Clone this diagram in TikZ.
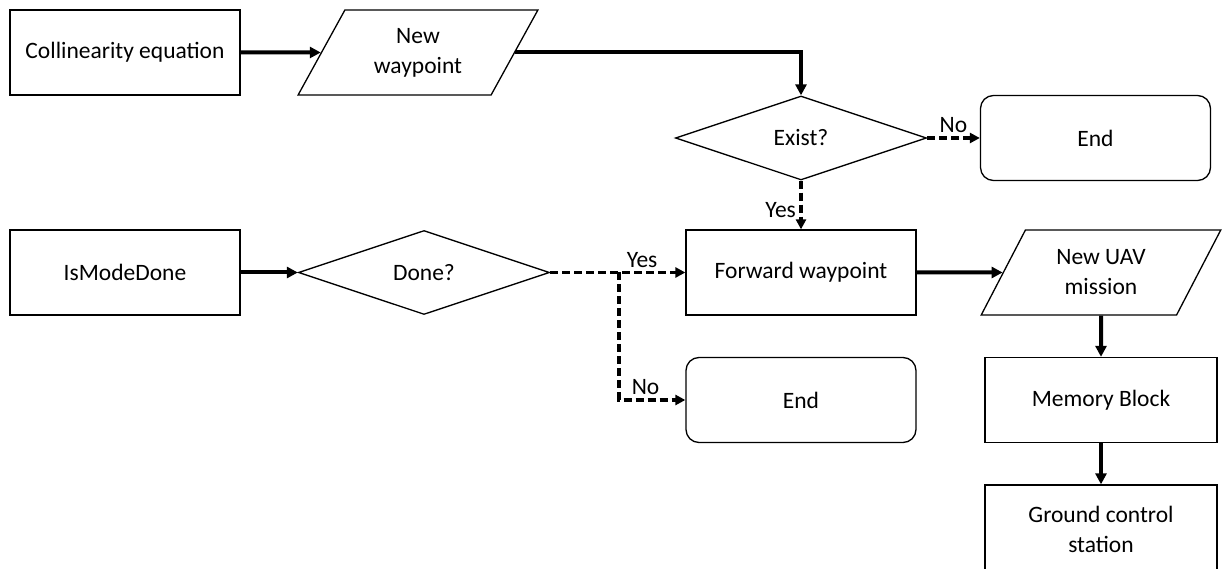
\documentclass[tikz,border=0pt]{standalone}
\usepackage{fontspec}
\setmainfont{Carlito}
\usetikzlibrary{arrows.meta,shapes.geometric}
\tikzset{
  txt/.style={font=\fontsize{23.5}{30}\selectfont},
  box/.style={draw, line width=1.3pt, minimum width=230pt, minimum height=85pt, inner sep=0pt, align=center, txt},
  rbox/.style={box, rounded corners=13pt},
  para/.style={draw, line width=1.3pt, trapezium, trapezium left angle=60, trapezium right angle=120, trapezium stretches=true, minimum width=240pt, minimum height=85pt, inner sep=0pt, align=center, txt},
  dec/.style={draw, line width=1.3pt, diamond, minimum width=251pt, minimum height=84pt, inner sep=0pt, align=center, txt},
  thickarrow/.style={line width=4pt, -{Triangle[length=11pt,width=11pt]}},
  dasharrow/.style={line width=3.2pt, dash pattern=on 8pt off 4pt, -{Triangle[length=10pt,width=10pt]}},
  lbl/.style={font=\fontsize{23.5}{28}\selectfont, inner sep=3.5pt}
}
\begin{document}
\begin{tikzpicture}[x=1pt,y=-1pt]
\clip (0,0) rectangle (1227,569);
\useasboundingbox (0,0) rectangle (1227,569);
\node[box] (coll) at (125,52.5) {Collinearity equation};
\node[para] (nw) at (418,52.5) {New\\waypoint};
\node[dec] (exist) at (801,138) {Exist?};
\node[rbox] (end1) at (1095.5,138) {End};
\node[box] (ismd) at (125,272.5) {IsModeDone};
\node[dec] (done) at (424,272.5) {Done?};
\node[box] (fw) at (801,272.5) {Forward waypoint};
\node[para] (uav) at (1101,272.5) {New UAV\\mission};
\node[rbox] (end2) at (801,400) {End};
\node[box, minimum width=232pt] (mem) at (1101,400) {Memory Block};
\node[box, minimum width=232pt, minimum height=88pt] (gcs) at (1101,529) {Ground control\\station};
\coordinate (br) at (619,272.5);
\draw[thickarrow] (coll.east) -- (nw.west);
\draw[thickarrow] (nw.east) -| (exist.north);
\draw[dasharrow] (exist.east) -- node[lbl, above] {No} (end1.west);
\draw[dasharrow] (exist.south) -- node[lbl, left, pos=0.6] {Yes} (fw.north);
\draw[thickarrow] (ismd.east) -- (done.west);
\draw[dasharrow] (done.east) -- node[lbl, above, pos=0.68] {Yes} (fw.west);
\draw[dasharrow] (br) |- node[lbl, above, pos=0.7] {No} (end2.west);
\draw[thickarrow] (fw.east) -- (uav.west);
\draw[thickarrow] (uav.south) -- (mem.north);
\draw[thickarrow] (mem.south) -- (gcs.north);
\end{tikzpicture}
\end{document}
